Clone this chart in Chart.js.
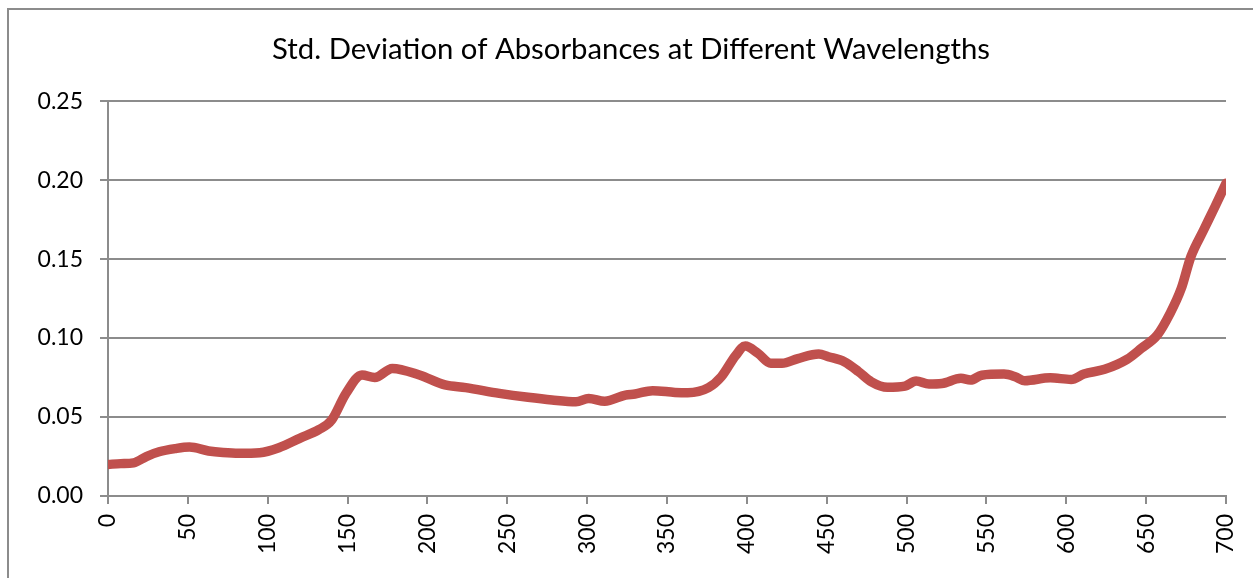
<!DOCTYPE html>
<html>
<head>
<meta charset="utf-8">
<script src="https://cdn.jsdelivr.net/npm/chart.js@4"></script>
<style>
  html, body { margin: 0; padding: 0; background: #fff; overflow: hidden; }
  #wrap { position: relative; width: 1253px; height: 578px; }
  #frame { position: absolute; left: 7px; top: 8px; width: 1300px; height: 700px;
           border-left: 2px solid #8c8c8c; border-top: 2px solid #8c8c8c; box-sizing: border-box; }
  canvas { position: absolute; left: 0; top: 0; }
</style>
</head>
<body>
<div id="wrap">
  <div id="frame"></div>
  <canvas id="chart" width="1253" height="578"></canvas>
</div>
<script>
// wavelength positions (x axis)
var wavelengths = [0, 8, 16, 24, 32, 42, 51, 63, 72, 82, 95, 107, 120, 132, 140, 149, 159, 167, 178,
  195, 211, 224, 245, 263, 278, 293, 301, 311, 324, 330, 341, 355, 363, 376, 384, 393, 399, 407,
  415, 422, 432, 445, 451, 461, 470, 478, 488, 499, 506, 514, 522, 534, 540, 547, 561, 568, 574,
  590, 603, 611, 624, 638, 647, 657, 665, 672, 678, 686, 693, 700];

// std. deviation of absorbance at each wavelength
var stdDev = [0.020, 0.0205, 0.021, 0.025, 0.028, 0.030, 0.031, 0.0285, 0.0275, 0.027, 0.0274, 0.0306,
  0.0365, 0.042, 0.048, 0.065, 0.0766, 0.075, 0.0808, 0.0766, 0.0703, 0.0686, 0.065, 0.0625, 0.0608,
  0.0597, 0.0618, 0.060, 0.0639, 0.0646, 0.0667, 0.0656, 0.0654, 0.0686, 0.0755, 0.089, 0.0949,
  0.0903, 0.084, 0.084, 0.087, 0.0899, 0.0882, 0.085, 0.0787, 0.0723, 0.0688, 0.0696, 0.0728,
  0.0709, 0.0712, 0.0745, 0.0734, 0.0765, 0.0772, 0.0755, 0.073, 0.0748, 0.0738, 0.0772, 0.0802,
  0.0865, 0.0935, 0.1019, 0.1156, 0.1314, 0.1515, 0.1684, 0.183, 0.198];

var chartTitle = 'Std. Deviation of Absorbances at Different Wavelengths';

var points = wavelengths.map(function (w, i) { return { x: w, y: stdDev[i] }; });

var gridGrey = '#8c8c8c';
var fontFam = 'Lato, "Liberation Sans", sans-serif';

var ctx = document.getElementById('chart').getContext('2d');
var myChart = new Chart(ctx, {
  type: 'line',
  data: {
    datasets: [{
      label: 'Std. Deviation',
      data: points,
      borderColor: '#c0504d',
      backgroundColor: '#c0504d',
      borderWidth: 9.5,
      pointRadius: 0,
      cubicInterpolationMode: 'monotone',
      borderCapStyle: 'round',
      borderJoinStyle: 'round'
    }]
  },
  options: {
    responsive: false,
    animation: false,
    // left/right padding keep the title centred where it sits in the original
    layout: { padding: { left: 36, right: 27, top: 0, bottom: 0 } },
    plugins: {
      legend: { display: false },
      tooltip: { enabled: false },
      title: {
        display: true,
        text: chartTitle,
        color: '#000',
        font: { family: fontFam, size: 29.3, weight: 'normal' },
        padding: { top: 32, bottom: 34 }
      }
    },
    scales: {
      x: {
        type: 'linear',
        min: 0,
        max: 700,
        afterFit: function (s) { s.height = 82; s.paddingLeft = 0; s.paddingRight = 0; },
        ticks: {
          stepSize: 50,
          minRotation: 90,
          maxRotation: 90,
          color: '#000',
          padding: 10,
          font: { family: fontFam, size: 23 }
        },
        grid: {
          drawOnChartArea: false,
          drawTicks: true,
          tickLength: 8,
          color: gridGrey,
          lineWidth: 2
        },
        border: { display: true, color: gridGrey, width: 2 }
      },
      y: {
        min: 0,
        max: 0.25,
        afterFit: function (s) { s.width = 72; s.paddingTop = 0; s.paddingBottom = 0; },
        ticks: {
          stepSize: 0.05,
          color: '#000',
          padding: 17,
          font: { family: fontFam, size: 23 },
          callback: function (v) { return v.toFixed(2); }
        },
        grid: {
          color: gridGrey,
          lineWidth: 2,
          drawTicks: true,
          tickLength: 8
        },
        border: { display: true, color: gridGrey, width: 2 }
      }
    }
  }
});
</script>
</body>
</html>
